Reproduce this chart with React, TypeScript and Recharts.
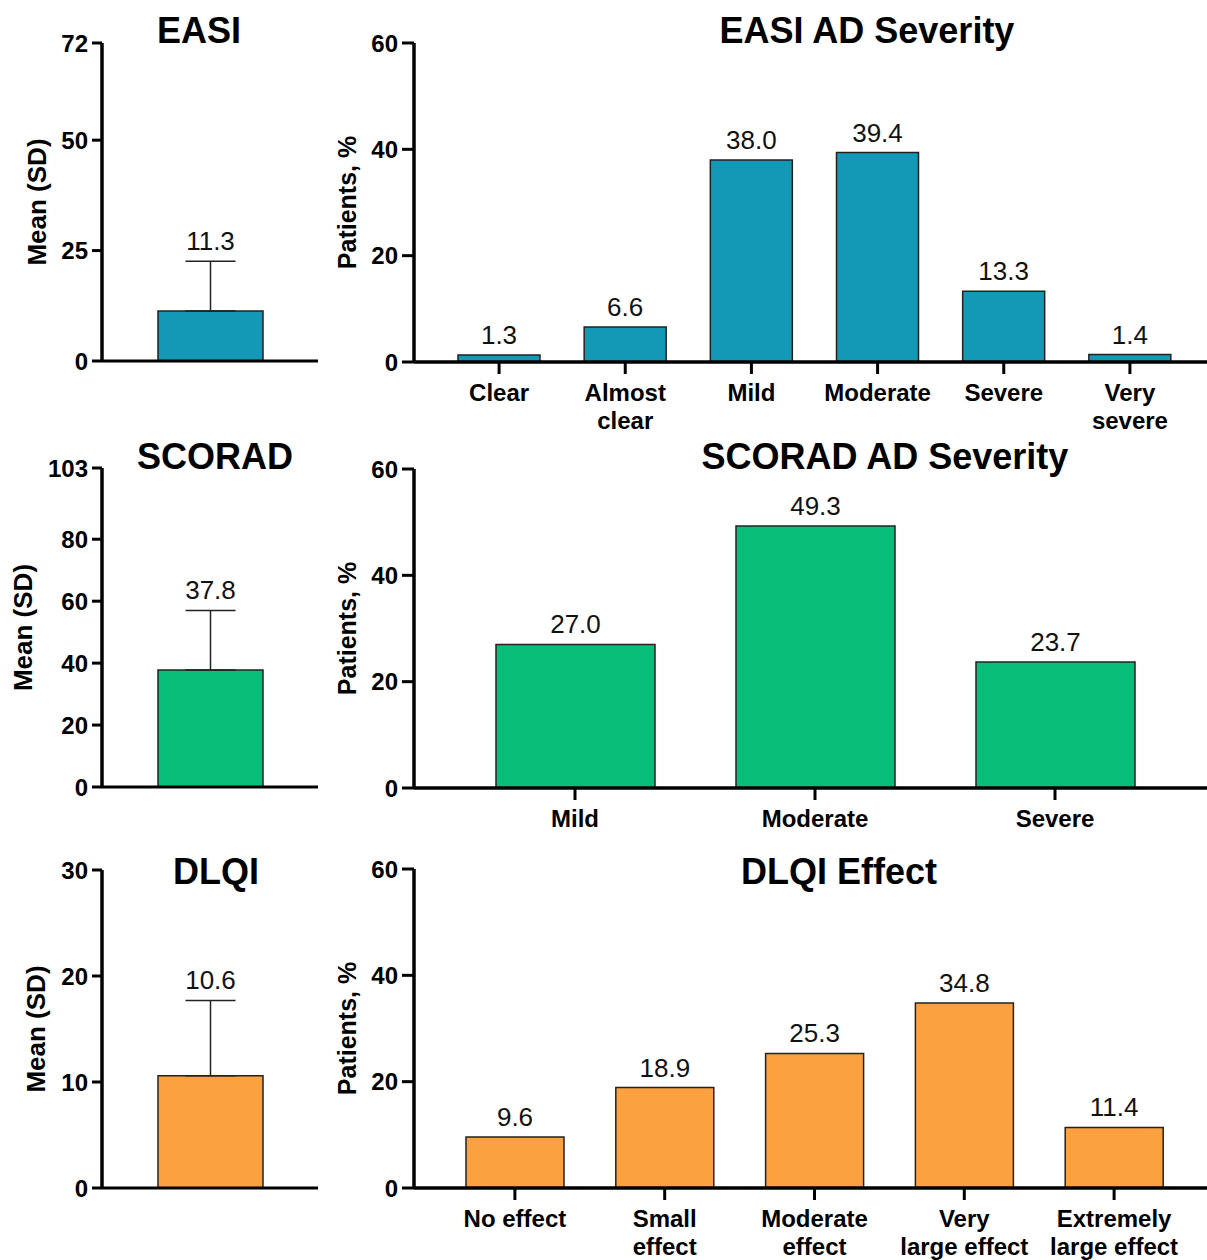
import { BarChart, Bar, XAxis, YAxis, ErrorBar, LabelList } from 'recharts';

const FONT = "'Liberation Sans', Arial, Helvetica, sans-serif";

// summary panels (mean with SD)
const summaryTitles = ['EASI', 'SCORAD', 'DLQI'];
const summaryMeans = [11.3, 37.8, 10.6];
const summarySDs = [11.3, 19.2, 7.1];
const summaryTicks = [
  [0, 25, 50, 72],
  [0, 20, 40, 60, 80, 103],
  [0, 10, 20, 30]
];

// distribution panels (% of patients)
const easiCategories = ['Clear', 'Almost\nclear', 'Mild', 'Moderate', 'Severe', 'Very\nsevere'];
const easiPercents = [1.3, 6.6, 38.0, 39.4, 13.3, 1.4];
const scoradCategories = ['Mild', 'Moderate', 'Severe'];
const scoradPercents = [27.0, 49.3, 23.7];
const dlqiCategories = ['No effect', 'Small\neffect', 'Moderate\neffect', 'Very\nlarge effect', 'Extremely\nlarge effect'];
const dlqiPercents = [9.6, 18.9, 25.3, 34.8, 11.4];
const percentTitles = ['EASI AD Severity', 'SCORAD AD Severity', 'DLQI Effect'];
const percentTicks = [0, 20, 40, 60];

const colors = ['#1399b5', '#08bf79', '#fca13f'];

function AxisTitle({ viewBox, text, posX, size }: any) {
  if (!viewBox) return null;
  const cy = viewBox.y + viewBox.height / 2;
  return (
    <text
      x={posX}
      y={cy}
      transform={`rotate(-90, ${posX}, ${cy})`}
      textAnchor="middle"
      dominantBaseline="central"
      fontSize={size}
      fontWeight={700}
      fill="#000"
      fontFamily={FONT}
    >
      {text}
    </text>
  );
}

function CategoryTick({ x, y, payload }: any) {
  const lines = String(payload.value).split('\n');
  return (
    <text x={x} y={y} textAnchor="middle" fontSize={24} fontWeight={700} fill="#000" fontFamily={FONT}>
      {lines.map((l, i) => (
        <tspan key={i} x={x} dy={i === 0 ? 27 : 28}>{l}</tspan>
      ))}
    </text>
  );
}

function Title({ text, x, y }: { text: string; x: number; y: number }) {
  return (
    <div
      style={{
        position: 'absolute',
        left: x,
        top: y,
        transform: 'translate(-50%, -50%)',
        fontFamily: FONT,
        fontWeight: 700,
        fontSize: 36,
        lineHeight: 1,
        whiteSpace: 'nowrap',
        color: '#000'
      }}
    >
      {text}
    </div>
  );
}

function SummaryChart({ idx, top, height, plotTop, plotBottom, labelX }: any) {
  const sd = summarySDs[idx];
  const data = [{ name: summaryTitles[idx], mean: summaryMeans[idx], err: [0, sd] }];
  const ticks = summaryTicks[idx];

  const renderValue = (props: any) => {
    const vb = props.viewBox ?? props;
    const { x, y, width, height: h } = vb;
    const value = Number(props.value);
    const perUnit = Math.abs(h) / value;
    const ty = Math.min(y, y + h) - sd * perUnit - 11;
    return (
      <text x={x + width / 2} y={ty} textAnchor="middle" fontSize={26} fill="#111" fontFamily={FONT}>
        {value.toFixed(1)}
      </text>
    );
  };

  return (
    <div style={{ position: 'absolute', left: 0, top, width: 330, height }}>
      <BarChart width={330} height={height} data={data} margin={{ top: plotTop, right: 12, left: 0, bottom: 0 }}>
        <XAxis
          dataKey="name"
          tick={false}
          tickLine={false}
          height={height - plotBottom}
          axisLine={{ stroke: '#000', strokeWidth: 3 }}
        />
        <YAxis
          domain={[0, ticks[ticks.length - 1]]}
          ticks={ticks}
          interval={0}
          width={102}
          tickSize={10}
          tickMargin={4}
          axisLine={{ stroke: '#000', strokeWidth: 3.5 }}
          tickLine={{ stroke: '#000', strokeWidth: 3 }}
          tick={{ fill: '#000', fontSize: 24, fontWeight: 700, fontFamily: FONT }}
          label={<AxisTitle text="Mean (SD)" posX={labelX} size={26} />}
        />
        <Bar dataKey="mean" fill={colors[idx]} stroke="#222" strokeWidth={1.5} barSize={105} isAnimationActive={false}>
          <ErrorBar dataKey="err" direction="y" width={25} stroke="#222" strokeWidth={1.5} />
          <LabelList dataKey="mean" content={renderValue} />
        </Bar>
      </BarChart>
    </div>
  );
}

function PercentChart({ idx, categories, values, top, height, plotTop, plotBottom, padding, barSize }: any) {
  const data = categories.map((c: string, i: number) => ({ name: c, value: values[i] }));
  return (
    <div style={{ position: 'absolute', left: 320, top, width: 887, height }}>
      <BarChart width={887} height={height} data={data} margin={{ top: plotTop, right: 0, left: 0, bottom: 0 }}>
        <XAxis
          dataKey="name"
          height={height - plotBottom}
          padding={padding}
          interval={0}
          tickSize={12}
          tickMargin={0}
          axisLine={{ stroke: '#000', strokeWidth: 3.5 }}
          tickLine={{ stroke: '#000', strokeWidth: 3 }}
          tick={<CategoryTick />}
        />
        <YAxis
          domain={[0, 60]}
          ticks={percentTicks}
          interval={0}
          width={94}
          tickSize={12}
          tickMargin={4}
          axisLine={{ stroke: '#000', strokeWidth: 3.5 }}
          tickLine={{ stroke: '#000', strokeWidth: 3 }}
          tick={{ fill: '#000', fontSize: 24, fontWeight: 700, fontFamily: FONT }}
          label={<AxisTitle text="Patients, %" posX={27} size={25} />}
        />
        <Bar dataKey="value" fill={colors[idx]} stroke="#222" strokeWidth={1.5} barSize={barSize} isAnimationActive={false}>
          <LabelList
            dataKey="value"
            position="top"
            offset={11}
            fill="#111"
            fontSize={26}
            fontFamily={FONT}
            formatter={(v: any) => Number(v).toFixed(1)}
          />
        </Bar>
      </BarChart>
    </div>
  );
}

export default function App() {
  return (
    <div style={{ position: 'absolute', left: 0, top: 0, width: 1207, height: 1260, background: '#fff', overflow: 'hidden' }}>
      <SummaryChart idx={0} top={0} height={440} plotTop={43} plotBottom={361} labelX={37} />
      <PercentChart idx={0} categories={easiCategories} values={easiPercents} top={0} height={440}
        plotTop={43} plotBottom={362} padding={{ left: 22, right: 14 }} barSize={82} />

      <SummaryChart idx={1} top={440} height={400} plotTop={28} plotBottom={347} labelX={23} />
      <PercentChart idx={1} categories={scoradCategories} values={scoradPercents} top={440} height={400}
        plotTop={29} plotBottom={348} padding={{ left: 41, right: 32 }} barSize={159} />

      <SummaryChart idx={2} top={840} height={420} plotTop={30} plotBottom={348} labelX={36} />
      <PercentChart idx={2} categories={dlqiCategories} values={dlqiPercents} top={840} height={420}
        plotTop={29} plotBottom={348} padding={{ left: 26, right: 18 }} barSize={98} />

      <Title text={summaryTitles[0]} x={199} y={31} />
      <Title text={percentTitles[0]} x={867} y={31} />
      <Title text={summaryTitles[1]} x={215} y={457} />
      <Title text={percentTitles[1]} x={885} y={457} />
      <Title text={summaryTitles[2]} x={216} y={872} />
      <Title text={percentTitles[2]} x={839} y={872} />
    </div>
  );
}
